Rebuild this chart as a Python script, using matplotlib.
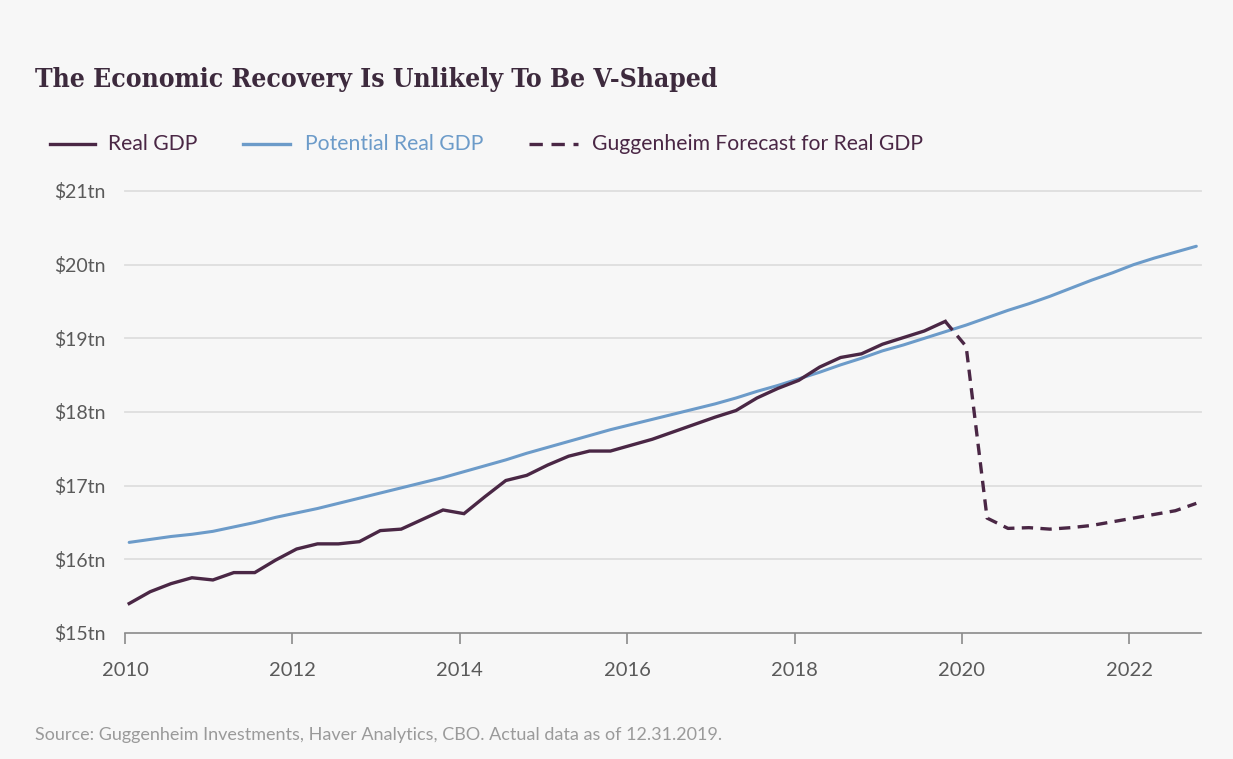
import matplotlib
matplotlib.use("Agg")
import matplotlib.pyplot as plt
from matplotlib.lines import Line2D
import numpy as np

# ---- data (trillions of chained dollars, quarterly) ----
real_gdp_start = 2010.05
real_gdp = [15.40, 15.56, 15.67, 15.75,
            15.72, 15.82, 15.82, 15.99,
            16.14, 16.21, 16.21, 16.24,
            16.39, 16.41, 16.54, 16.67,
            16.62, 16.85, 17.07, 17.14,
            17.28, 17.40, 17.47, 17.47,
            17.55, 17.63, 17.73, 17.83,
            17.93, 18.02, 18.19, 18.32,
            18.43, 18.61, 18.74, 18.79,
            18.92, 19.01, 19.10, 19.23]

potential_start = 2010.05
potential_gdp = [16.23, 16.27, 16.31, 16.34,
                 16.38, 16.44, 16.50, 16.57,
                 16.63, 16.69, 16.76, 16.83,
                 16.90, 16.97, 17.04, 17.11,
                 17.19, 17.27, 17.35, 17.44,
                 17.52, 17.60, 17.68, 17.76,
                 17.83, 17.90, 17.97, 18.04,
                 18.11, 18.19, 18.28, 18.36,
                 18.45, 18.54, 18.64, 18.73,
                 18.83, 18.91, 19.00, 19.09,
                 19.18, 19.28, 19.38, 19.47,
                 19.57, 19.68, 19.79, 19.89,
                 20.00, 20.09, 20.17, 20.25]

forecast_start = 2019.80
forecast_gdp = [19.23, 18.89, 16.56, 16.42, 16.43, 16.41, 16.43,
                16.46, 16.51, 16.56, 16.61, 16.66, 16.76]

y_ticks = [15, 16, 17, 18, 19, 20, 21]
y_labels = ["$15tn", "$16tn", "$17tn", "$18tn", "$19tn", "$20tn", "$21tn"]
x_ticks = [2010, 2012, 2014, 2016, 2018, 2020, 2022]
x_labels = ["2010", "2012", "2014", "2016", "2018", "2020", "2022"]

title = "The Economic Recovery Is Unlikely To Be V-Shaped"
source = "Source: Guggenheim Investments, Haver Analytics, CBO. Actual data as of 12.31.2019."
series_names = ["Real GDP", "Potential Real GDP", "Guggenheim Forecast for Real GDP"]

# ---- style ----
BG = "#f7f7f7"
PURPLE = "#4a2745"
BLUE = "#6c9bc9"
GRID = "#dedede"
TICKC = "#5a5a5a"
SANS = ["Lato", "DejaVu Sans"]
DASH = (3.4, 2.2)

def qx(start, n):
    return np.arange(n) * 0.25 + start

fig = plt.figure(figsize=(12.33, 7.59), dpi=100, facecolor=BG)
W, H = 1233, 759
ax = fig.add_axes([125 / W, 1 - 633 / H, 1075.5 / W, 442 / H], facecolor=BG)

ax.plot(qx(potential_start, len(potential_gdp)), potential_gdp, color=BLUE, lw=2.2,
        solid_capstyle="round", zorder=3)
ax.plot(qx(real_gdp_start, len(real_gdp)), real_gdp, color=PURPLE, lw=2.4,
        solid_joinstyle="miter", zorder=4)
ax.plot(qx(forecast_start, len(forecast_gdp)), forecast_gdp, color=PURPLE, lw=2.4,
        dashes=DASH, zorder=4)

ax.set_xlim(2010, 2022.85)
ax.set_ylim(15, 21)
for s in ["top", "right", "left"]:
    ax.spines[s].set_visible(False)
ax.spines["bottom"].set_color("#8a8a8a")
ax.spines["bottom"].set_linewidth(1.2)

ax.set_yticks(y_ticks)
ax.set_yticklabels(y_labels, fontfamily=SANS, fontsize=14, color=TICKC)
ax.tick_params(axis="y", length=0, pad=14)
ax.set_xticks(x_ticks)
ax.set_xticklabels(x_labels, fontfamily=SANS, fontsize=14.5, color=TICKC)
ax.tick_params(axis="x", length=8, width=1.2, color="#8a8a8a", pad=13)
for yv in y_ticks[1:]:
    ax.axhline(yv, color=GRID, lw=1.3, zorder=1, clip_on=False)

# ---- title ----
fig.text(35 / W, 1 - 80 / H, title, fontfamily=["DejaVu Serif"], fontstretch="condensed",
         fontweight="bold", fontsize=19, color="#3d2a3d", va="center", ha="left")

# ---- legend ----
ly = 1 - 144 / H
entries = [(50, 95, 108, PURPLE, "-", PURPLE),
           (243, 290, 305, BLUE, "-", BLUE),
           (529, 578, 592, PURPLE, "--", PURPLE)]
for (x0, x1, xt, c, ls, tc), name in zip(entries, series_names):
    ln = Line2D([x0 / W, x1 / W], [ly, ly], transform=fig.transFigure, color=c, lw=2.4)
    if ls == "--":
        ln.set_dashes((4.0, 2.6))
    fig.add_artist(ln)
    fig.text(xt / W, ly, name, fontfamily=SANS, fontsize=15.2, color=tc, va="center", ha="left")

fig.text(35 / W, 1 - 735 / H, source, fontfamily=SANS, fontsize=13, color="#9a9a9a",
         va="center", ha="left")

fig.savefig("out.png", dpi=100, facecolor=BG)
